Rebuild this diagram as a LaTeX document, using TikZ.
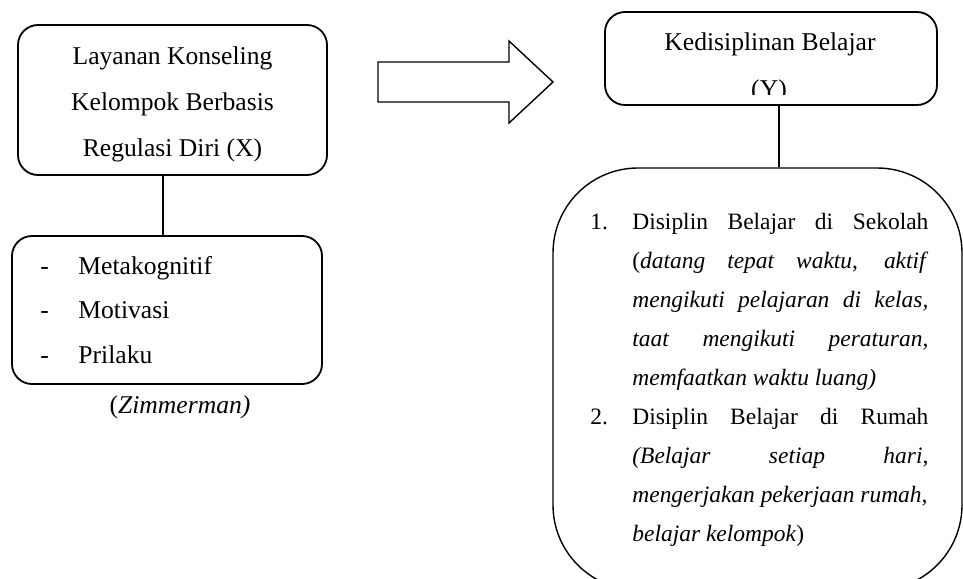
\documentclass[tikz,border=0pt]{standalone}
\usepackage{fontspec}
\setmainfont{Liberation Serif}
\usepackage{tikz}
\usetikzlibrary{positioning}
\newcommand{\jrow}[1]{\makebox[148pt][s]{#1}}

\begin{document}
\begin{tikzpicture}[x=0.5pt, y=-0.5pt,
  box/.style={draw, line width=0.9pt, rounded corners=10pt, inner sep=0pt},
  txt/.style={inner sep=0pt, font=\fontsize{12.8}{15}\selectfont},
  small/.style={inner sep=0pt, anchor=base west, font=\fontsize{11.73}{14}\selectfont},
  conn/.style={line width=0.8pt}]
  \useasboundingbox (0,0) rectangle (963,578);
  % left side
  \node[box, minimum width=154.5pt, minimum height=75pt] (layanan) at (172.5,100) {};
  \foreach \l [count=\i] in {Layanan Konseling, Kelompok Berbasis, Regulasi Diri (X)}
  {\node[txt, anchor=base] (x\i) at (172.5,18+46*\i) {\l};}
  \node[box, minimum width=155pt, minimum height=74pt] (aspek) at (167,310) {};
  \foreach \w [count=\i] in {Metakognitif, Motivasi, Prilaku}
  {\node[txt, anchor=base west] (d\i) at (40,229.5+44.5*\i) {-};
  \node[txt, anchor=base west] (a\i) at (78,229.5+44.5*\i) {\w};}
  \node[txt, anchor=base] (zim) at (180,413) {(\textit{Zimmerman)}};
  \draw[conn] ([xshift=-4.75pt]layanan.south) -- ([xshift=-4.75pt]layanan.south |- aspek.north);
  % block arrow
  \draw[line width=0.7pt] (378,62) -- (509,62) -- (509,41) -- (553,82) -- (509,123)
    -- (509,102) -- (378,102) -- cycle;
  % right side
  \node[box, minimum width=166pt, minimum height=46.5pt] (disiplin) at (771,58.5) {};
  \node[txt, anchor=base] (y1) at (770,50) {Kedisiplinan Belajar};
  \begin{scope}
    \clip (605,12) rectangle (937,94);
    \node[txt, anchor=base] (y2) at (769,97) {(Y)};
  \end{scope}
  \node[draw, line width=0.7pt, rounded corners=42.5pt, inner sep=0pt,
    minimum width=204.5pt, minimum height=211pt] (indikator) at (757.5,379) {};
  \draw[conn] ([xshift=4pt]disiplin.south) -- ([xshift=4pt]disiplin.south |- indikator.north);
  \node[small] (n1) at (590,229) {1.};
  \node[small] (n2) at (590,424) {2.};
  \foreach \t [count=\k from 0] in {
    {\jrow{Disiplin Belajar di Sekolah}},
    {\jrow{(\textit{datang tepat waktu}, \textit{aktif}}},
    {\jrow{\textit{mengikuti pelajaran di kelas,}}},
    {\jrow{\textit{taat mengikuti peraturan,}}},
    {\textit{memfaatkan waktu luang)}},
    {\jrow{Disiplin Belajar di Rumah}},
    {\jrow{\textit{(Belajar setiap hari},}},
    {\textit{mengerjakan pekerjaan rumah,}},
    {\textit{belajar kelompok})}}
  {\node[small] (r\k) at (632,229+39*\k) {\t};}
\end{tikzpicture}
\end{document}
